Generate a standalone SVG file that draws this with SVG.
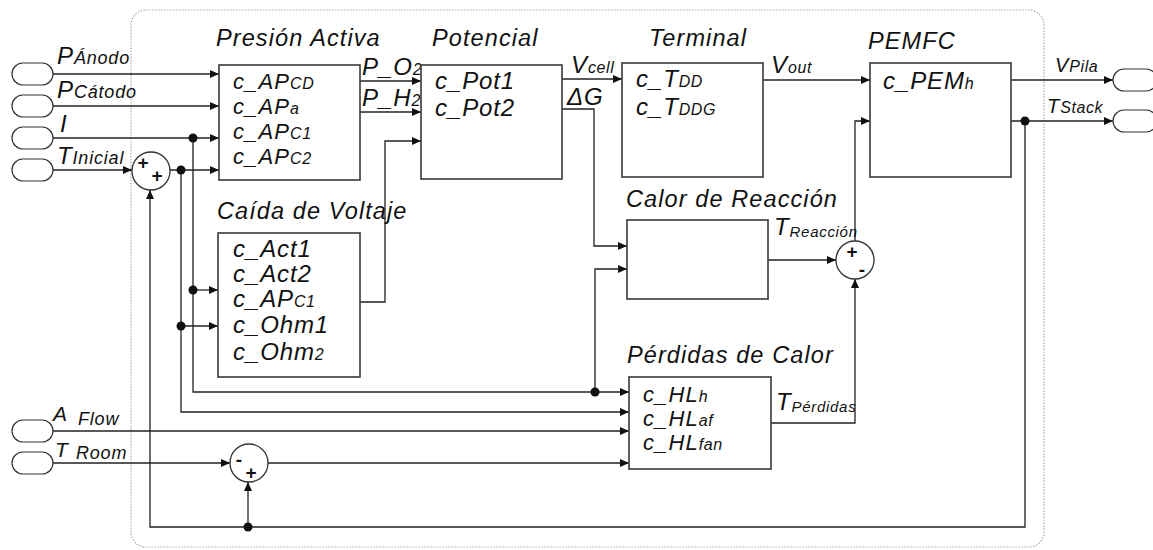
<svg xmlns="http://www.w3.org/2000/svg" width="1153" height="550" viewBox="0 0 1153 550">
<defs>
<marker id="ah" markerWidth="10" markerHeight="8" refX="9" refY="4" orient="auto" markerUnits="userSpaceOnUse"><path d="M0,0 L9,4 L0,8 z" fill="#111"/></marker>
<style>
text{font-family:"Liberation Sans",Arial,sans-serif;font-style:italic;fill:#111}
.t{font-size:23.5px;letter-spacing:1.1px}
.m{font-size:24px;letter-spacing:0.9px}
.p{font-size:22px;letter-spacing:1.1px}
.s{font-size:16px;letter-spacing:0.6px}
.sm{font-size:18px;letter-spacing:0.8px}
.ss{font-size:15px;letter-spacing:0.7px}
.sg{font-size:19px;font-style:normal;font-weight:bold;text-anchor:middle}
.box{fill:#fff;stroke:#444;stroke-width:1.7}
.ln{fill:none;stroke:#222;stroke-width:1.3;marker-end:url(#ah)}
.ov{fill:#fff;stroke:#333;stroke-width:1.2}
.sum{fill:#fff;stroke:#333;stroke-width:1.3}
.dot{fill:#111}
.frame{fill:none;stroke:#aaa;stroke-width:1.2;stroke-dasharray:1.5 1.5}
</style>
</defs>
<rect width="1153" height="550" fill="#fff"/>
<rect class="frame" x="131" y="10" width="913" height="537" rx="15"/>

<g id="connectors">
<path class="ln" d="M53,74 H219"/>
<path class="ln" d="M53,106 H219"/>
<path class="ln" d="M53,138 H219"/>
<path class="ln" d="M53,170 H132"/>
<path class="ln" d="M170,170 H219"/>
<path class="ln" d="M193,138 V392 H629"/>
<path class="ln" d="M193,290 H218"/>
<path class="ln" d="M181,170 V412 H629"/>
<path class="ln" d="M181,326 H218"/>
<path class="ln" d="M595,392 V269 H627"/>
<path class="ln" d="M360,81 H421"/>
<path class="ln" d="M360,112 H421"/>
<path class="ln" d="M360,302 H385 V141 H421"/>
<path class="ln" d="M562,79 H622"/>
<path class="ln" d="M562,109 H594 V246 H627"/>
<path class="ln" d="M763,80 H870"/>
<path class="ln" d="M768,260 H836"/>
<path class="ln" d="M771,423 H855 V279"/>
<path class="ln" d="M855,241 V121 H870"/>
<path class="ln" d="M1011,80 H1113"/>
<path class="ln" d="M1011,121 H1113"/>
<path class="ln" d="M1025,121 V527 H150 V190"/>
<path class="ln" d="M248,527 V482"/>
<path class="ln" d="M53,431 H629"/>
<path class="ln" d="M53,463 H230"/>
<path class="ln" d="M268,463 H629"/>
<circle class="dot" cx="193" cy="138" r="4.5"/>
<circle class="dot" cx="181" cy="170" r="4.5"/>
<circle class="dot" cx="193" cy="290" r="4.5"/>
<circle class="dot" cx="181" cy="326" r="4.5"/>
<circle class="dot" cx="595" cy="392" r="4.5"/>
<circle class="dot" cx="1025" cy="121" r="4.5"/>
<circle class="dot" cx="248" cy="527" r="4.5"/>
<text class="m" x="362" y="75">P_O<tspan class="s">2</tspan></text>
<text class="m" x="362" y="106">P_H<tspan class="s">2</tspan></text>
<text class="m" x="571" y="73">V<tspan class="s">cell</tspan></text>
<text class="m" x="567" y="105">ΔG</text>
<text class="m" x="771" y="73">V<tspan class="s">out</tspan></text>
<text class="m" x="774" y="235">T<tspan class="ss" dy="2">Reacción</tspan></text>
<text class="m" x="776" y="410">T<tspan class="ss" dy="2">Pérdidas</tspan></text>
</g>

<g id="in-panodo"><rect class="ov" x="12" y="63" width="41" height="22" rx="11"/><text class="m" x="57" y="64">P<tspan class="sm">Ánodo</tspan></text></g>
<g id="in-pcatodo"><rect class="ov" x="12" y="95" width="41" height="22" rx="11"/><text class="m" x="57" y="98">P<tspan class="sm">Cátodo</tspan></text></g>
<g id="in-i"><rect class="ov" x="12" y="127" width="41" height="22" rx="11"/><text class="m" x="60" y="132">I</text></g>
<g id="in-tinicial"><rect class="ov" x="12" y="159" width="41" height="22" rx="11"/><text class="m" x="57" y="164">T<tspan class="sm">Inicial</tspan></text></g>
<g id="in-aflow"><rect class="ov" x="12" y="420" width="41" height="22" rx="11"/><text class="m" x="53" y="421" style="font-size:21px">A</text><text class="sm" x="78" y="425">Flow</text></g>
<g id="in-troom"><rect class="ov" x="12" y="452" width="41" height="22" rx="11"/><text class="m" x="55" y="457" style="font-size:21px">T</text><text class="sm" x="76" y="459">Room</text></g>

<g id="out-vpila"><rect class="ov" x="1113" y="69" width="44" height="22" rx="11"/><text class="m" x="1055" y="72" style="font-size:20px">V<tspan class="s">Pila</tspan></text></g>
<g id="out-tstack"><rect class="ov" x="1113" y="110" width="44" height="22" rx="11"/><text class="m" x="1047" y="113" style="font-size:20px">T<tspan class="s">Stack</tspan></text></g>

<g id="sum1"><circle class="sum" cx="151" cy="171" r="19"/><text class="sg" x="143" y="169">+</text><text class="sg" x="157" y="182">+</text></g>
<g id="sum2"><circle class="sum" cx="855" cy="260" r="19"/><text class="sg" x="852" y="258">+</text><text class="sg" x="862" y="276">-</text></g>
<g id="sum3"><circle class="sum" cx="249" cy="463" r="19"/><text class="sg" x="239" y="466">-</text><text class="sg" x="251" y="479">+</text></g>

<g id="presion-activa">
<text class="t" x="216" y="46">Presión Activa</text>
<rect class="box" x="219" y="65" width="141" height="115"/>
<text class="p" x="233" y="89">c_AP<tspan class="s">CD</tspan></text>
<text class="p" x="233" y="114">c_AP<tspan class="s">a</tspan></text>
<text class="p" x="233" y="139">c_AP<tspan class="s">C1</tspan></text>
<text class="p" x="233" y="164">c_AP<tspan class="s">C2</tspan></text>
</g>

<g id="potencial">
<text class="t" x="432" y="46">Potencial</text>
<rect class="box" x="421" y="65" width="141" height="114"/>
<text class="m" x="435" y="89">c_Pot1</text>
<text class="m" x="435" y="116">c_Pot2</text>
</g>

<g id="terminal">
<text class="t" x="649" y="46">Terminal</text>
<rect class="box" x="622" y="63" width="141" height="114"/>
<text class="m" x="636" y="87">c_T<tspan class="s">DD</tspan></text>
<text class="m" x="636" y="115">c_T<tspan class="s">DDG</tspan></text>
</g>

<g id="pemfc">
<text class="t" x="868" y="49">PEMFC</text>
<rect class="box" x="870" y="63" width="141" height="114"/>
<text class="m" x="883" y="89">c_PEM<tspan class="s">h</tspan></text>
</g>

<g id="caida-voltaje">
<text class="t" x="217" y="219">Caída de Voltaje</text>
<rect class="box" x="218" y="233" width="142" height="144"/>
<text class="m" x="233" y="257">c_Act1</text>
<text class="m" x="233" y="282">c_Act2</text>
<text class="m" x="233" y="307">c_AP<tspan class="s">C1</tspan></text>
<text class="m" x="233" y="333">c_Ohm1</text>
<text class="m" x="233" y="360">c_Ohm<tspan class="s">2</tspan></text>
</g>

<g id="calor-reaccion">
<text class="t" x="626" y="207">Calor de Reacción</text>
<rect class="box" x="627" y="220" width="141" height="79"/>
</g>

<g id="perdidas-calor">
<text class="t" x="627" y="363">Pérdidas de Calor</text>
<rect class="box" x="629" y="377" width="142" height="92"/>
<text class="p" x="643" y="402">c_HL<tspan class="s">h</tspan></text>
<text class="p" x="643" y="426">c_HL<tspan class="s">af</tspan></text>
<text class="p" x="643" y="450">c_HL<tspan class="s">fan</tspan></text>
</g>
</svg>
